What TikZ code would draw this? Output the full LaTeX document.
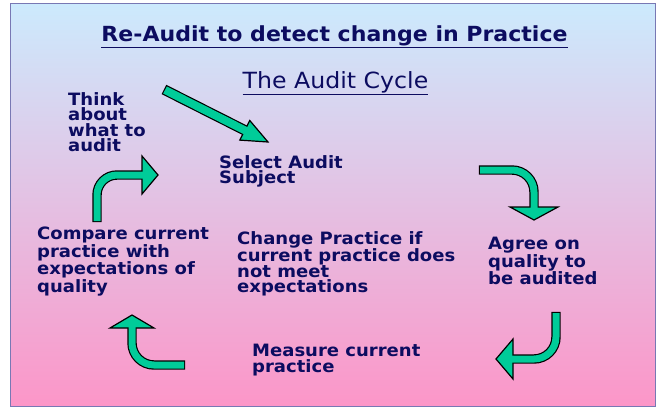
\documentclass[tikz,border=0pt]{standalone}
\usepackage{fontspec}
\usetikzlibrary{calc}
\newfontfamily\comicfont{DejaVu Sans}[FakeStretch=1.06]
\definecolor{navy}{RGB}{12,12,96}
\definecolor{agreen}{RGB}{0,204,153}
\definecolor{bgtop}{RGB}{204,234,253}
\definecolor{bgmid}{RGB}{230,208,236}
\definecolor{bgbot}{RGB}{252,150,200}
\definecolor{frameblue}{RGB}{120,120,180}
\newcommand{\arrhead}[3]{\filldraw[headst] ($(#1)!#3!90:(#2)$) -- (#2) -- ($(#1)!#3!-90:(#2)$) -- cycle;}
\tikzset{
  lbl/.style={anchor=north west, align=left, inner sep=0pt, text=navy,
    font=\comicfont\bfseries\fontsize{17}{15.6}\selectfont},
  outl/.style={draw=black, line width=#1, line cap=butt},
  shaftst/.style={draw=agreen, line width=#1, line cap=butt},
  headst/.style={fill=agreen, draw=black, line width=1.2pt, line join=miter},
}
\begin{document}
\begin{tikzpicture}[x=1pt,y=-1pt]
\useasboundingbox (0,0) rectangle (659,408);
\shade[top color=bgtop, middle color=bgmid, bottom color=bgbot] (10,3) rectangle (655,406);
\draw[frameblue, line width=1pt] (10,3) rectangle (655,406);

% titles
\node[anchor=base, inner sep=0pt, text=navy, font=\comicfont\bfseries\fontsize{20.8}{22}\selectfont] (title) at (334.5,41) {\underline{Re-Audit to detect change in Practice}};
\node[anchor=base, inner sep=0pt, text=navy, font=\comicfont\fontsize{22.3}{24}\selectfont] (cycle) at (335.5,88) {\underline{The Audit Cycle}};

% labels
\node[lbl] (think) at (68,92) {Think\\about\\what to\\audit};
\node[lbl] (select) at (219,155) {Select Audit\\Subject};
\node[lbl] (compare) at (37,227) {Compare current\\practice with\\expectations of\\quality};
\node[lbl] (change) at (237,231) {Change Practice if\\current practice does\\not meet\\expectations};
\node[lbl] (agree) at (488,237) {Agree on\\quality to\\be audited};
\node[lbl] (measure) at (252,344) {Measure current\\practice};

% arrow 1 (straight diagonal)
\coordinate (a1t) at (165,90);
\coordinate (a1p) at (268,142);
\coordinate (a1b) at ($(a1p)!26pt!(a1t)$);
\draw[outl=10.4pt, shorten <=-1.2pt] (a1t) -- (a1b);
\arrhead{a1b}{a1p}{11pt}
\draw[shaftst=8pt, shorten >=-1.5pt] (a1t) -- (a1b);

% arrow 2 (left, up then right)
\coordinate (a2t) at (97,221);
\coordinate (a2b) at (142,175);
\coordinate (a2p) at (158,175);
\draw[outl=9.4pt, rounded corners=20pt, shorten <=-1.2pt] (a2t) |- (a2b);
\arrhead{a2b}{a2p}{19pt}
\draw[shaftst=7pt, rounded corners=20pt, shorten >=-1.5pt] (a2t) |- (a2b);

% arrow 3 (top right, right then down)
\coordinate (a3t) at (480,170);
\coordinate (a3b) at (534,207);
\coordinate (a3p) at (534,220);
\draw[outl=9.4pt, rounded corners=22pt, shorten <=-1.2pt] (a3t) -| (a3b);
\arrhead{a3b}{a3p}{24pt}
\draw[shaftst=7pt, rounded corners=22pt, shorten >=-1.5pt] (a3t) -| (a3b);

% arrow 4 (bottom right, down then left)
\coordinate (a4t) at (556,313);
\coordinate (a4b) at (513,359);
\coordinate (a4p) at (496,359);
\draw[outl=9.4pt, rounded corners=22pt, shorten <=-1.2pt] (a4t) |- (a4b);
\arrhead{a4b}{a4p}{20pt}
\draw[shaftst=7pt, rounded corners=22pt, shorten >=-1.5pt] (a4t) |- (a4b);

% arrow 5 (bottom left, left then up)
\coordinate (a5t) at (184,365);
\coordinate (a5b) at (132,328);
\coordinate (a5p) at (132,315);
\draw[outl=9.4pt, rounded corners=22pt, shorten <=-1.2pt] (a5t) -| (a5b);
\arrhead{a5b}{a5p}{22pt}
\draw[shaftst=7pt, rounded corners=22pt, shorten >=-1.5pt] (a5t) -| (a5b);
\end{tikzpicture}
\end{document}
